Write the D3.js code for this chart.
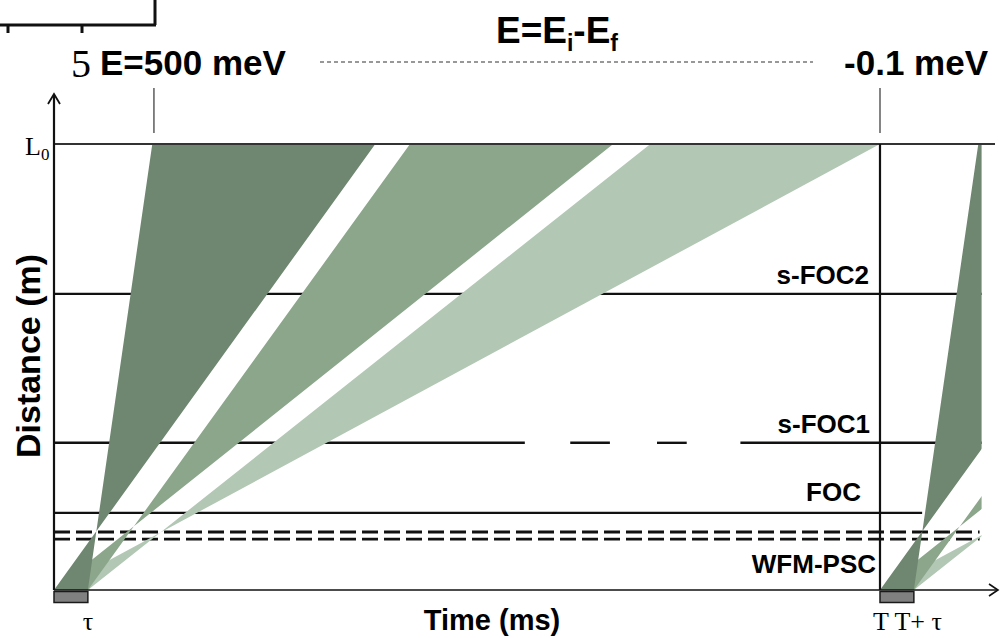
<!DOCTYPE html>
<html>
<head>
<meta charset="utf-8">
<script src="https://cdn.jsdelivr.net/npm/d3@7"></script>
<style>
  body { margin: 0; background: #fff; }
  text { font-family: "Liberation Sans", Arial, sans-serif; }
  .serif { font-family: "Liberation Serif", "Times New Roman", serif; }
</style>
</head>
<body>
<svg width="1005" height="638"></svg>
<script>
// time in ms (arbitrary units, T = period), distance normalised to L0 = 100
const T = 100;
const tau = 4.1;
const L0 = 100;

// wavelength bands: arrival time at L0 of fastest / slowest neutrons
const bandNames = ["light", "medium", "dark"];
const bandFast = [72.2, 43.1, 11.9];
const bandSlow = [100, 67.7, 38.9];
const bandColors = ["#b2c7b4", "#8ba68a", "#6f8770"];

// choppers
const chopperNames = ["s-FOC2", "s-FOC1", "FOC", "WFM-PSC"];
const sfoc2Dist = 66.4;
const sfoc1Dist = 33.0;
const focDist = 17.3;
const pscDist = [13.0, 11.4];
const sfoc1Segments = [[0, 57.0], [62.5, 67.3], [73.0, 76.6], [83.1, 112.3]];
const tEnd = 112.3;      // end of drawn window
const focEnd = 105.1;

// energy markers at L0
const energyLabels = ["E=500 meV", "-0.1 meV"];
const energyTimes = [12.1, 100];

const svg = d3.select("svg");
const x = d3.scaleLinear().domain([0, T]).range([54, 880]);
const y = d3.scaleLinear().domain([0, L0]).range([590, 144]);

// clip for the second pulse
svg.append("defs").append("clipPath").attr("id", "clipR")
  .append("rect").attr("x", 0).attr("y", 0).attr("width", x(tEnd)).attr("height", 638);

// horizontal chopper lines (under the bands)
const gl = svg.append("g").attr("stroke", "#111").attr("stroke-width", 2.4);
gl.append("line").attr("x1", x(0)).attr("x2", x(tEnd)).attr("y1", y(sfoc2Dist)).attr("y2", y(sfoc2Dist));
sfoc1Segments.forEach(s => {
  gl.append("line").attr("x1", x(s[0])).attr("x2", x(s[1])).attr("y1", y(sfoc1Dist)).attr("y2", y(sfoc1Dist));
});
gl.append("line").attr("x1", x(0)).attr("x2", x(focEnd)).attr("y1", y(focDist)).attr("y2", y(focDist));
pscDist.forEach(d => {
  gl.append("line").attr("x1", x(0)).attr("x2", x(tEnd) - 2).attr("y1", y(d)).attr("y2", y(d))
    .attr("stroke-width", 2.8).attr("stroke-dasharray", "16,6");
});

// bands: bow-tie polygon from pulse (0..tau) to L0 (fast..slow)
const line = d3.line().x(d => x(d[0])).y(d => y(d[1]));
function bandPts(i, off) {
  return [[off, 0], [off + tau, 0], [off + bandFast[i], L0], [off + bandSlow[i], L0]];
}
const gb = svg.append("g");
bandNames.forEach((b, i) => {
  gb.append("path").attr("d", line(bandPts(i, 0)) + "Z").attr("fill", bandColors[i]);
});
const gb2 = svg.append("g").attr("clip-path", "url(#clipR)");
bandNames.forEach((b, i) => {
  gb2.append("path").attr("d", line(bandPts(i, T)) + "Z").attr("fill", bandColors[i]);
});

// L0 line, T line, axes
svg.append("line").attr("x1", x(0)).attr("x2", 995).attr("y1", y(L0)).attr("y2", y(L0))
  .attr("stroke", "#333").attr("stroke-width", 2.2);
svg.append("line").attr("x1", x(T)).attr("x2", x(T)).attr("y1", y(L0)).attr("y2", y(0))
  .attr("stroke", "#111").attr("stroke-width", 2.2);
svg.append("line").attr("x1", x(0)).attr("x2", x(0)).attr("y1", 95).attr("y2", y(0))
  .attr("stroke", "#111").attr("stroke-width", 2.2);
svg.append("path").attr("d", `M${x(0) - 6},104 L${x(0)},94 L${x(0) + 6},104`)
  .attr("fill", "none").attr("stroke", "#111").attr("stroke-width", 1.8);
svg.append("line").attr("x1", x(0)).attr("x2", 997).attr("y1", y(0)).attr("y2", y(0))
  .attr("stroke", "#111").attr("stroke-width", 1.6);
svg.append("path").attr("d", `M989,${y(0) - 6} L998,${y(0)} L989,${y(0) + 6}`)
  .attr("fill", "none").attr("stroke", "#111").attr("stroke-width", 1.6);

// pulse boxes
[0, T].forEach(t0 => {
  svg.append("rect").attr("x", x(t0)).attr("y", y(0) + 1.5)
    .attr("width", x(t0 + tau) - x(t0)).attr("height", 11)
    .attr("fill", "#808080").attr("stroke", "#1a1a1a").attr("stroke-width", 1.5);
});

// energy ticks above L0
energyTimes.forEach(t => {
  svg.append("line").attr("x1", x(t)).attr("x2", x(t)).attr("y1", 88).attr("y2", 133)
    .attr("stroke", "#333").attr("stroke-width", 1.2);
});

// top texts
svg.append("text").attr("x", 100).attr("y", 75).attr("font-size", 35).attr("font-weight", "bold")
  .text(energyLabels[0]);
svg.append("text").attr("x", 988).attr("y", 75).attr("text-anchor", "end").attr("font-size", 35)
  .attr("font-weight", "bold").text(energyLabels[1]);
svg.append("line").attr("x1", 320).attr("x2", 813).attr("y1", 62).attr("y2", 62)
  .attr("stroke", "#333").attr("stroke-width", 1.2).attr("stroke-dasharray", "4,3");
const eq = svg.append("text").attr("x", 496).attr("y", 43).attr("font-size", 37).attr("font-weight", "bold");
eq.append("tspan").text("E=E");
eq.append("tspan").attr("font-size", 23).attr("dy", 8).text("i");
eq.append("tspan").attr("dy", -8).text("-E");
eq.append("tspan").attr("font-size", 23).attr("dy", 8).text("f");

// cropped fragment at top left
svg.append("path").attr("d", "M0,25 H156 M155,0 V25 M8,25 V33 M82,25 V33")
  .attr("fill", "none").attr("stroke", "#111").attr("stroke-width", 3);
svg.append("text").attr("class", "serif").attr("x", 71).attr("y", 77).attr("font-size", 40).text("5");

// chopper labels (baselines)
const labelY = [y(sfoc2Dist) - 10, y(sfoc1Dist) - 10, y(focDist) - 12, 573];
const labelX = [869, 870, 861, 876];
chopperNames.forEach((n, i) => {
  svg.append("text").attr("x", labelX[i]).attr("y", labelY[i])
    .attr("text-anchor", "end").attr("font-size", 26).attr("font-weight", "bold").text(n);
});

// L0 label
const l0 = svg.append("text").attr("class", "serif").attr("x", 25).attr("y", y(L0) + 11).attr("font-size", 26);
l0.append("tspan").text("L");
l0.append("tspan").attr("font-size", 17).attr("dy", 5).text("0");

// bottom labels
svg.append("text").attr("class", "serif").attr("x", x(tau)).attr("y", 630).attr("text-anchor", "middle")
  .attr("font-size", 26).text("\u03c4");
svg.append("text").attr("class", "serif").attr("x", 873).attr("y", 630).attr("font-size", 26).text("T T+ \u03c4");

// axis titles
svg.append("text").attr("x", 492).attr("y", 630).attr("text-anchor", "middle")
  .attr("font-size", 29).attr("font-weight", "bold").text("Time (ms)");
svg.append("text").attr("transform", "translate(40,356) rotate(-90)").attr("text-anchor", "middle")
  .attr("font-size", 34).attr("font-weight", "bold").text("Distance (m)");
</script>
</body>
</html>
